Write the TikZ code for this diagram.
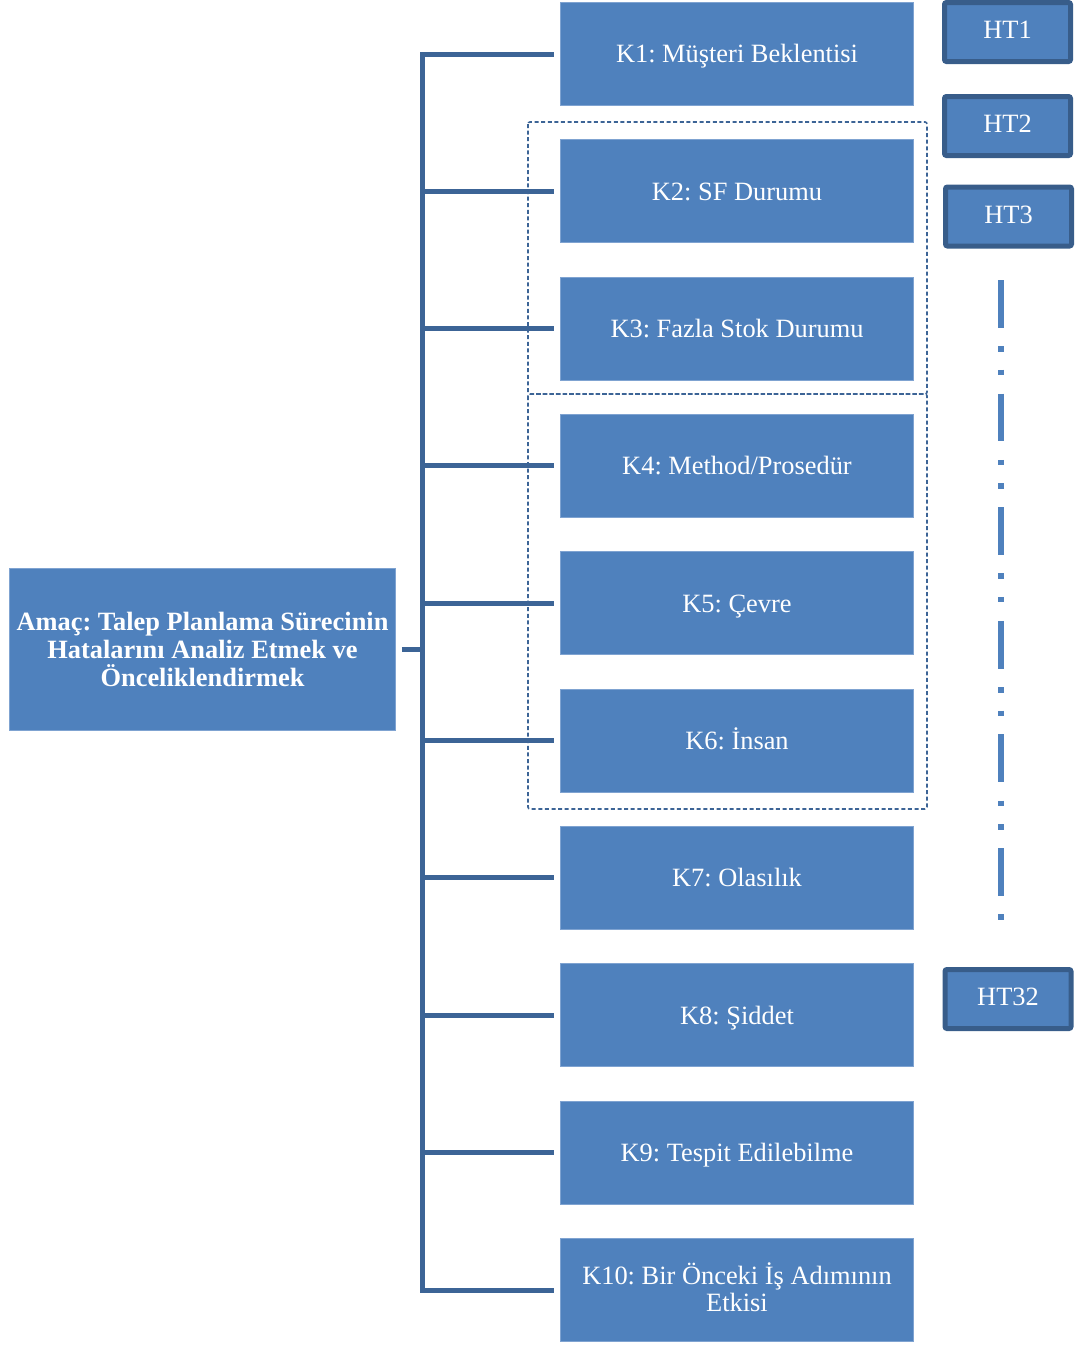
\documentclass[tikz,border=0pt]{standalone}
\usepackage{fontspec}
\setmainfont{Liberation Serif}
\definecolor{boxblue}{HTML}{4F81BD}
\definecolor{boxrim}{HTML}{7FA3D1}
\definecolor{linkblue}{HTML}{3C6496}
\definecolor{htrim}{HTML}{385D8A}
\begin{document}
\frenchspacing
\begin{tikzpicture}[x=1pt,y=-1pt,
  txt/.style={text=white, align=center, font=\fontsize{26.4}{27.5}\selectfont},
  goalbox/.style={txt, fill=boxblue, draw=boxrim, line width=0.8pt, inner sep=0pt,
    minimum width=386pt, minimum height=162pt, font=\fontsize{26.4}{28}\selectfont\bfseries},
  kbox/.style={txt, fill=boxblue, draw=boxrim, line width=0.8pt, inner sep=0pt,
    minimum width=353pt, minimum height=103pt},
  oneline/.style={text height=17.5pt, text depth=0pt},
  htbox/.style={txt, fill=boxblue, draw=htrim, line width=5pt, rounded corners=2pt,
    inner sep=0pt, minimum width=126pt, minimum height=59pt, text height=17.5pt, text depth=4pt},
  conn/.style={draw=linkblue, line width=5pt},
  group/.style={draw=linkblue, line width=1.6pt, dash pattern=on 4pt off 2.6pt, rounded corners=2pt},
  ellipsis/.style={draw=boxblue, line width=6pt,
    dash pattern=on 47.8pt off 18.4pt on 5.5pt off 18pt on 5.5pt off 18.4pt}
]
\useasboundingbox (0,0) rectangle (1076,1345);

% goal
\node[goalbox] (goal) at (202.5,649.5)
  {Amaç: Talep Planlama Sürecinin\\Hatalarını Analiz Etmek ve\\Önceliklendirmek};

% criteria
\foreach \i/\t in {1/{K1: Müşteri Beklentisi}, 2/{K2: SF Durumu}, 3/{K3: Fazla Stok Durumu},
                   4/{K4: Method/Prosedür}, 5/{K5: Çevre}, 6/{K6: İnsan}, 7/{K7: Olasılık},
                   8/{K8: Şiddet}, 9/{K9: Tespit Edilebilme}}
  \node[kbox, oneline] (k\i) at (737,{54+(\i-1)*137.33}) {\t};
\node[kbox] (k10) at (737,1290) {K10: Bir Önceki İş Adımının\\Etkisi\vphantom{g}};

% criterion groups
\draw[group] (528,122) rectangle (927,394);
\draw[group] (528,394) rectangle (927,809);

% tree connectors
\coordinate (bus) at (422,649.5);
\draw[conn, shorten <=6pt] (goal.east) -- (bus);
\draw[conn, line cap=rect] (k1.west -| bus) -- (k10.west -| bus);
\foreach \i in {1,...,10}
  \draw[conn, shorten >=6pt] (k\i.west -| bus) -- (k\i.west);

% failure types
\node[htbox] (ht1)  at (1007.5,32)  {HT1};
\node[htbox] (ht2)  at (1007.5,126) {HT2};
\node[htbox] (ht3)  at (1008.5,216.5) {HT3};
\node[htbox] (ht32) at (1008,999)   {HT32};

\draw[ellipsis] (1001,280) -- (1001,920);
\end{tikzpicture}
\end{document}
